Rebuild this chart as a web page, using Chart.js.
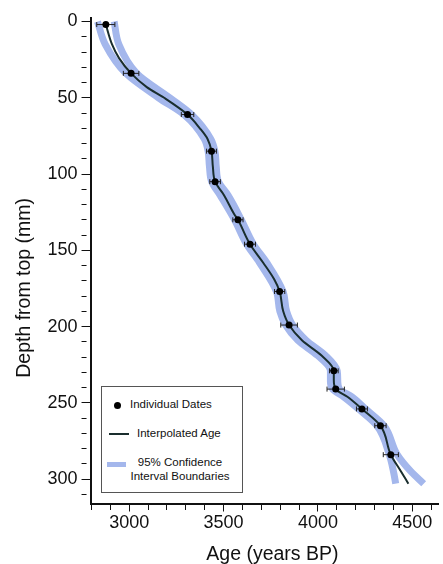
<!DOCTYPE html>
<html>
<head>
<meta charset="utf-8">
<script src="https://cdn.jsdelivr.net/npm/chart.js@4.4.1/dist/chart.umd.min.js"></script>
<style>
  html, body { margin: 0; padding: 0; background: #fff; }
  #wrap { position: relative; width: 443px; height: 564px; }
  #legend {
    position: absolute; left: 101px; top: 386px; width: 140px; height: 105px;
    border: 1px solid #555; background: #fff;
    font-family: "Liberation Sans", Arial, sans-serif; font-size: 11.5px; color: #111;
  }
  #legend .row { position: absolute; white-space: nowrap; }
  #legend .dot { position: absolute; width: 7px; height: 7px; border-radius: 50%; background: #000; }
  #legend .ln { position: absolute; }
</style>
</head>
<body>
<div id="wrap">
  <canvas id="age-depth" width="443" height="564"></canvas>
  <div id="legend">
    <div class="dot" style="left:12px; top:15px;"></div>
    <div class="row" style="left:28px; top:11px;">Individual Dates</div>
    <div class="ln" style="left:7px; top:46px; width:20px; height:2px; background:#1a2e2e;"></div>
    <div class="row" style="left:35px; top:40px;">Interpolated Age</div>
    <div class="ln" style="left:5px; top:75px; width:19px; height:5px; background:#a4b7ec;"></div>
    <div class="row" style="left:28px; top:68px; width:100px; text-align:center; line-height:14px; white-space:normal;">95% Confidence<br>Interval Boundaries</div>
  </div>
</div>
<script>
'use strict';

// individual dated samples (depth mm, age yr BP, 2-sigma error)
var dateDepth = [2, 34, 61, 85, 105, 130, 146, 177, 199, 229, 241, 254, 265, 284];
var dateAge   = [2876, 3010, 3309, 3436, 3455, 3576, 3640, 3797, 3847, 4084, 4094, 4233, 4331, 4386];
var dateErr   = [48, 41, 33, 26, 28, 27, 29, 27, 44, 23, 46, 29, 30, 40];

// interpolated age model
var lineDepth = [2, 15, 24, 34, 43, 50, 61, 70, 77, 85, 95, 105, 114, 126, 130, 146, 158, 169, 177, 190, 199, 209, 219, 229, 235, 241, 246, 254, 265, 284, 295, 303];
var lineAge   = [2876, 2909, 2946, 3010, 3093, 3185, 3309, 3374, 3415, 3436, 3443, 3455, 3503, 3555, 3576, 3640, 3709, 3768, 3797, 3816, 3847, 3915, 4019, 4084, 4084, 4094, 4156, 4233, 4331, 4386, 4440, 4479];

// 95% confidence interval boundaries
var ciDepth = [0, 15, 34, 50, 61, 77, 85, 95, 105, 114, 130, 146, 158, 177, 190, 199, 209, 219, 229, 236, 241, 246, 254, 265, 284, 295, 303];
var ciLower = [2832, 2873, 2982, 3155, 3290, 3398, 3418, 3425, 3437, 3482, 3558, 3622, 3690, 3780, 3798, 3828, 3893, 3998, 4066, 4066, 4078, 4135, 4214, 4312, 4378, 4400, 4412];
var ciUpper = [2920, 2945, 3040, 3215, 3330, 3432, 3454, 3461, 3473, 3524, 3594, 3658, 3728, 3815, 3834, 3866, 3937, 4040, 4102, 4105, 4114, 4180, 4252, 4350, 4420, 4492, 4560];

var xTickLabels = [3000, 3500, 4000, 4500];
var yTickLabels = [0, 50, 100, 150, 200, 250, 300];

var FONT = '"Liberation Sans", Arial, Helvetica, sans-serif';
var BLUE = '#a4b7ec';
var DARK = '#1a2e2e';

function pairs(xs, ys) {
  return xs.map(function (v, i) { return { x: v, y: ys[i] }; });
}

var datasets = [];

// dots on top
datasets.push({
  label: 'Individual Dates',
  data: pairs(dateAge, dateDepth),
  showLine: false,
  pointRadius: 3.5,
  pointBackgroundColor: '#000',
  pointBorderColor: '#000',
  pointBorderWidth: 0,
  order: 0
});

// error bars, one small dataset each
dateAge.forEach(function (a, i) {
  datasets.push({
    label: 'err' + i,
    data: [{ x: a - dateErr[i], y: dateDepth[i] }, { x: a + dateErr[i], y: dateDepth[i] }],
    borderColor: '#222',
    borderWidth: 1,
    tension: 0,
    pointStyle: 'line',
    rotation: 90,
    pointRadius: 2.5,
    pointBorderColor: '#222',
    pointBorderWidth: 1,
    order: 1
  });
});

datasets.push({
  label: 'Interpolated Age',
  data: pairs(lineAge, lineDepth),
  borderColor: DARK,
  borderWidth: 2,
  pointRadius: 0,
  cubicInterpolationMode: 'monotone',
  order: 2
});

datasets.push({
  label: 'CI lower',
  data: pairs(ciLower, ciDepth),
  borderColor: BLUE,
  borderWidth: 7,
  pointRadius: 0,
  cubicInterpolationMode: 'monotone',
  order: 3
});
datasets.push({
  label: 'CI upper',
  data: pairs(ciUpper, ciDepth),
  borderColor: BLUE,
  borderWidth: 7,
  pointRadius: 0,
  cubicInterpolationMode: 'monotone',
  order: 3
});

function minorDash(labels) {
  return function (ctx) {
    return labels.indexOf(ctx.tick.value) >= 0 ? [] : [5, 20];
  };
}

var ageDepth = new Chart(document.getElementById('age-depth'), {
  type: 'line',
  data: { datasets: datasets },
  options: {
    responsive: false,
    animation: false,
    indexAxis: 'y',
    layout: { padding: { top: 18, left: 6, right: 0, bottom: 0 } },
    plugins: { legend: { display: false }, tooltip: { enabled: false } },
    scales: {
      x: {
        type: 'linear',
        position: 'bottom',
        min: 2795,
        max: 4636,
        border: { color: '#111', width: 2 },
        grid: {
          drawOnChartArea: false,
          tickLength: 8,
          tickColor: '#111',
          tickWidth: 1,
          tickBorderDash: minorDash(xTickLabels)
        },
        ticks: {
          stepSize: 100,
          includeBounds: false,
          autoSkip: false,
          maxRotation: 0,
          padding: 3,
          color: '#111',
          font: { family: FONT, size: 18, lineHeight: 1 },
          callback: function (v) { return xTickLabels.indexOf(v) >= 0 ? String(v) : ''; }
        },
        title: {
          display: true,
          text: '\u00a0\u00a0\u00a0Age (years BP)',
          color: '#111',
          font: { family: FONT, size: 19.5, lineHeight: 1 },
          padding: { top: 9, bottom: 0 }
        }
      },
      y: {
        type: 'linear',
        reverse: true,
        min: -2.3,
        max: 316,
        border: { color: '#111', width: 2 },
        grid: {
          drawOnChartArea: false,
          tickLength: 9,
          tickColor: '#111',
          tickWidth: 1,
          tickBorderDash: minorDash(yTickLabels)
        },
        ticks: {
          stepSize: 10,
          includeBounds: false,
          autoSkip: false,
          padding: 4,
          color: '#111',
          font: { family: FONT, size: 18, lineHeight: 1 },
          callback: function (v) { return yTickLabels.indexOf(v) >= 0 ? String(v) : ''; }
        },
        title: {
          display: true,
          text: 'Depth from top (mm)' + '\u00a0'.repeat(10),
          color: '#111',
          font: { family: FONT, size: 19.5, lineHeight: 1 },
          padding: { top: 8.5, bottom: 9.5 }
        }
      }
    }
  }
});
</script>
</body>
</html>
